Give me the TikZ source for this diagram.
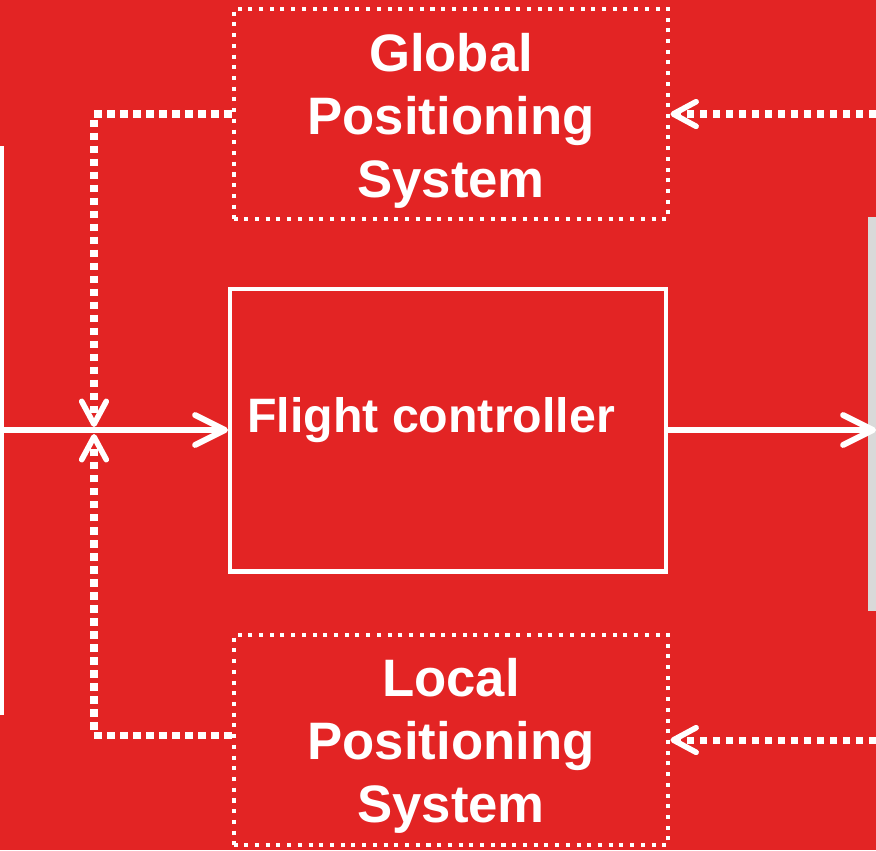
\documentclass[tikz,border=0pt]{standalone}
\usepackage{fontspec}
\setmainfont{Liberation Sans}
\usetikzlibrary{positioning,arrows.meta,calc}
\definecolor{nred}{HTML}{E32424}
\definecolor{ngray}{HTML}{D9D9D9}

\begin{document}
\begin{tikzpicture}[x=0.02cm,y=-0.02cm,
  every node/.style={text=white,align=center,font=\bfseries\fontsize{30pt}{36pt}\selectfont},
  dotbox/.style={draw=white,line width=2.3pt,dash pattern=on 2.3pt off 3.8pt,minimum width=8.7cm,minimum height=4.2cm},
  fcbox/.style={draw=white,line width=2.3pt,minimum width=8.72cm,minimum height=5.66cm},
  wline/.style={white,line width=2.9pt},
  dline/.style={white,line width=4pt,dash pattern=on 4pt off 3.4pt},
  bigtip/.style={-{Straight Barb[length=17pt,width=17pt,line width=3.4pt,round]}},
  smalltip/.style={-{Straight Barb[length=13pt,width=14pt,line width=3.2pt,round]}}]
 \useasboundingbox (0,0) rectangle (876,850);
 \fill[nred] (0,0) rectangle (876,850);
 \fill[white] (0,146) rectangle (4,715);
 \fill[ngray] (868,217) rectangle (876,611);
 % boxes
 \node[dotbox] (gps) at (451,114) {};
 \node (gpstext) at ($(gps.center)+(0,7)$) {Global\\Positioning\\System};
 \node[fcbox] (fc) at (448,430) {};
 \node[font=\bfseries\fontsize{27.5pt}{33pt}\selectfont] (fctext) at ($(fc.center)+(-17,-10)$) {Flight controller};
 \node[dotbox] (lps) at (451,740) {};
 \node (lpstext) at ($(lps.center)+(0,6)$) {Local\\Positioning\\System};
 % free ends
 \coordinate (inleft) at (0,430);
 \coordinate (outright) at (876,430);
 \coordinate (gpsin) at (876,114);
 \coordinate (lpsin) at (876,740);
 \coordinate (jtop) at (94,427);
 \coordinate (jbot) at (94,434);
 % connectors
 \draw[wline,bigtip] (inleft) -- (fc.west);
 \draw[wline,bigtip] (fc.east) -- (outright);
 \draw[dline,smalltip] (gpsin) -- (gps.east);
 \draw[dline,smalltip] (lpsin) -- (lps.east);
 \draw[dline,smalltip] (gps.west) -| (jtop);
 \draw[dline,smalltip] ([yshift=0.1cm]lps.west) -| (jbot);
\end{tikzpicture}
\end{document}
